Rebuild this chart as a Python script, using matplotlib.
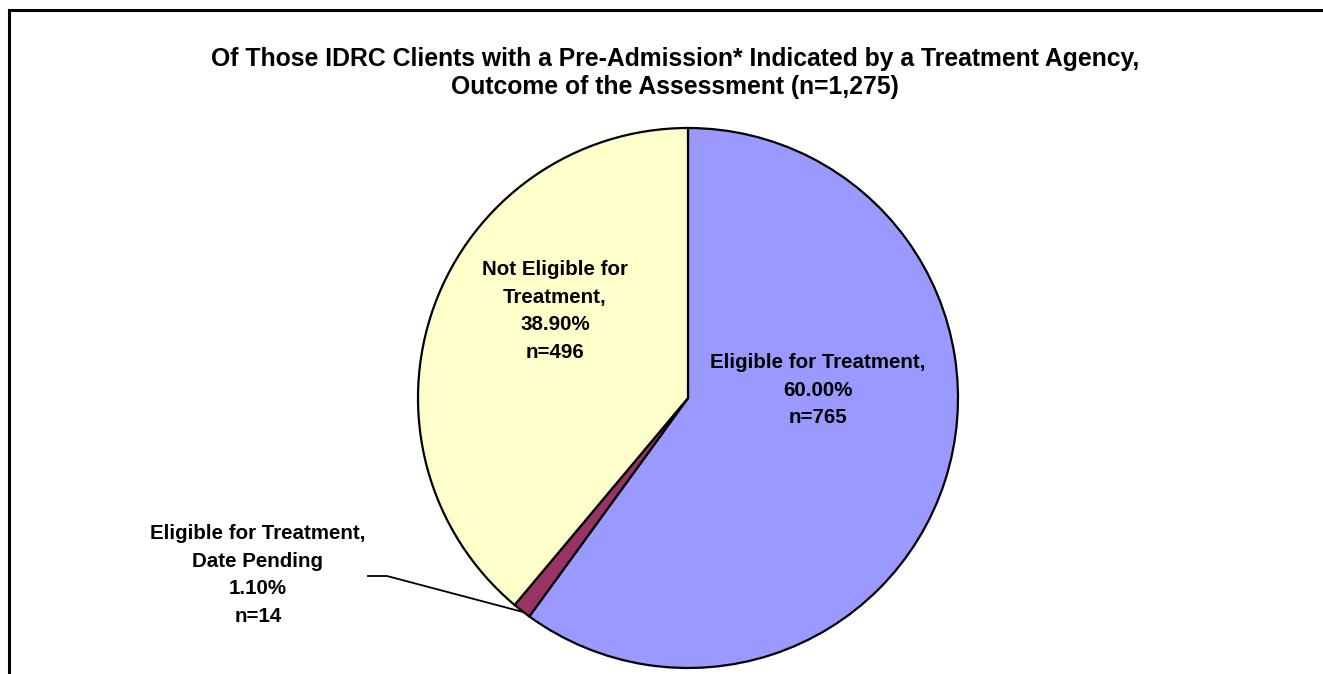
import matplotlib.pyplot as plt
from matplotlib.lines import Line2D

labels = ['Eligible for Treatment,\n60.00%\nn=765',
          'Eligible for Treatment,\nDate Pending\n1.10%\nn=14',
          'Not Eligible for\nTreatment,\n38.90%\nn=496']
values = [60.0, 1.1, 38.9]
colors = ['#9999FF', '#993366', '#FFFFCC']
title = ('Of Those IDRC Clients with a Pre-Admission* Indicated by a Treatment Agency,\n'
         'Outcome of the Assessment (n=1,275)')

plt.rcParams['font.family'] = ['Liberation Sans', 'DejaVu Sans']

W, H = 1323, 674
fig = plt.figure(figsize=(W / 100, H / 100), dpi=100)
ax = fig.add_axes([0, 0, 1, 1])

# pie in pixel coordinates (y measured up from bottom)
cx, cy, r = 688, H - 398, 270
wedges, _ = ax.pie(values, colors=colors, startangle=90, counterclock=False,
                   center=(cx, cy), radius=r, frame=True,
                   wedgeprops=dict(edgecolor='black', linewidth=1.6))
ax.set_xlim(0, W)
ax.set_ylim(0, H)
ax.set_aspect('equal')
ax.axis('off')

fs = 14.8
ls = 1.57
ax.text(818, H - 390, labels[0], ha='center', va='center', fontsize=fs,
        fontweight='bold', linespacing=ls)
ax.text(555, H - 311, labels[2], ha='center', va='center', fontsize=fs,
        fontweight='bold', linespacing=ls)
ax.text(258, H - 575, labels[1], ha='center', va='center', fontsize=fs,
        fontweight='bold', linespacing=ls)

# leader line for the small slice
ax.add_line(Line2D([368, 387, 523], [H - 576, H - 576, H - 612],
                   color='black', linewidth=1.3))

ax.text(675, H - 73, title, ha='center', va='center', fontsize=17.8,
        fontweight='bold', linespacing=1.24)

# chart-area border (top and left only visible)
ax.add_line(Line2D([8.5, 8.5, W], [0, H - 9.5, H - 9.5], color='black',
                   linewidth=2.2, solid_joinstyle='miter'))

fig.savefig('out.png', dpi=100)
